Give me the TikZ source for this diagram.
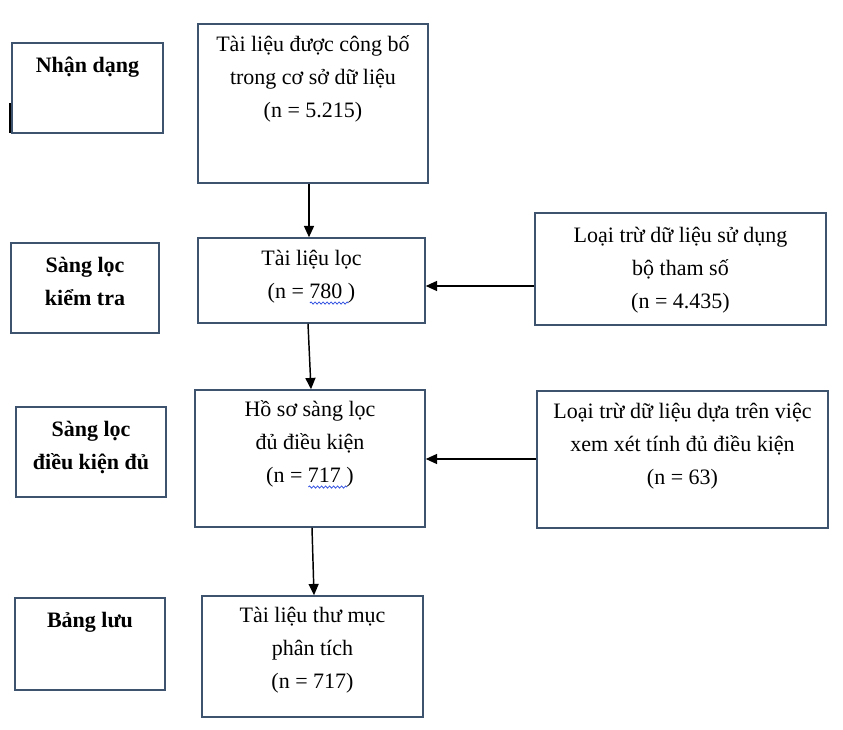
\documentclass[tikz,border=0pt]{standalone}
\usepackage{fontspec}
\setmainfont{Liberation Serif}
\usepackage{xcolor}
\usetikzlibrary{arrows.meta,decorations.pathmorphing}
\definecolor{edge}{HTML}{3E546E}
\definecolor{spell}{HTML}{3050E0}
\newsavebox\wavebox
\newcommand\spellwave[1]{\sbox\wavebox{#1}\rlap{\tikz[baseline=0pt]\draw[spell, line width=0.6pt, decorate, decoration={snake, amplitude=0.8pt, segment length=3pt}] (0pt,-3.5pt) -- (\the\wd\wavebox,-3.5pt);}\usebox\wavebox}
\tikzset{
  panel/.style 2 args={draw=edge, line width=1.1pt, minimum width={#1*0.75pt}, minimum height={#2*0.75pt}, inner sep=0pt},
  boxtext/.style={anchor=north, align=center, inner sep=0pt, font=\fontsize{16.5}{24.75}\selectfont},
  stagetext/.style={boxtext, font=\fontsize{16.5}{24.75}\selectfont\bfseries},
  flow/.style={-{Triangle[length=8.5pt,width=7.5pt]}, line width=1.1pt}
}
\begin{document}
\begin{tikzpicture}[x=0.75pt, y=-0.75pt]
\useasboundingbox (0,0) rectangle (843,730);
% stage boxes on the left
\node[panel={151}{90}] (nhan) at (87.5,88) {};
\node[panel={148}{90}] (kiem) at (85,288) {};
\node[panel={150}{90}] (dieu) at (91,452) {};
\node[panel={150}{92}] (bang) at (90,644) {};
\node[stagetext] (nhant) at (87.5,49) {\strut Nhận dạng};
\node[stagetext] (kiemt) at (85,249) {\strut Sàng lọc\\kiểm tra};
\node[stagetext] (dieut) at (91,413) {\strut Sàng lọc\\điều kiện đủ};
\node[stagetext] (bangt) at (90,604) {\strut Bảng lưu};
% main flow
\node[panel={230}{159}] (congbo) at (313,103.5) {};
\node[panel={227}{85}] (loc) at (311.5,280.5) {};
\node[panel={230}{137}] (hoso) at (310,458.5) {};
\node[panel={221}{121}] (thumuc) at (312.5,656.5) {};
\node[boxtext] (congbot) at (313,28) {\strut Tài liệu được công bố\\trong cơ sở dữ liệu\\(n = 5.215)};
\node[boxtext] (loct) at (311.5,242) {\strut Tài liệu lọc\\(n = \spellwave{780\ })};
\node[boxtext] (hosot) at (310,393) {\strut Hồ sơ sàng lọc\\đủ điều kiện\\(n = \spellwave{717\ })};
\node[boxtext] (thumuct) at (312.5,599) {\strut Tài liệu thư mục\\phân tích\\(n = 717)};
% exclusions
\node[panel={291}{112}] (thamso) at (680.5,269) {};
\node[panel={291}{137}] (xemxet) at (682.5,459.5) {};
\node[boxtext] (thamsot) at (680.5,219) {\strut Loại trừ dữ liệu sử dụng\\bộ tham số\\(n = 4.435)};
\node[boxtext] (xemxett) at (682.5,395) {\strut Loại trừ dữ liệu dựa trên việc\\xem xét tính đủ điều kiện\\(n = 63)};
% connectors
\draw[flow] (congbo.south -| 309,0) -- (loc.north -| 309,0);
\draw[flow] (loc.south -| 308,0) -- (hoso.north -| 311,0);
\draw[flow] (hoso.south -| 312,0) -- (thumuc.north -| 314,0);
\draw[flow] (thamso.west |- 0,286) -- (loc.east |- 0,286);
\draw[flow] (xemxet.west |- 0,459) -- (hoso.east |- 0,459);
% stray mark
\draw[line width=0.8pt] (10,103) -- (10,133);
\end{tikzpicture}
\end{document}
